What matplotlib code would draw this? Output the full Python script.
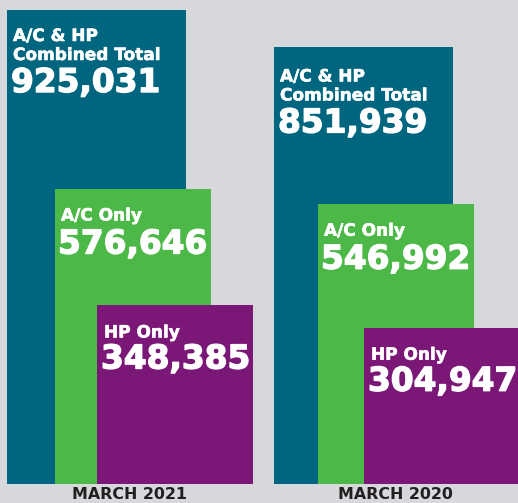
import numpy as np
import matplotlib.pyplot as plt
import matplotlib.patheffects as pe

periods = ['MARCH 2021', 'MARCH 2020']
combined = [925031, 851939]
ac_only = [576646, 546992]
hp_only = [348385, 304947]

bg = '#d6d8dc'
c_blue = '#00657e'
c_green = '#4cb848'
c_purple = '#7b1877'

fig = plt.figure(figsize=(5.18, 5.03), dpi=100, facecolor=bg)
ax = fig.add_axes([0, 19 / 503, 1, 484 / 503])
ax.set_facecolor(bg)
ax.set_xlim(0, 518)
ax.set_ylim(0, 484 * combined[0] / 474)
ax.axis('off')

# left edges of each bar layer, in pixel units of the x axis
blue_x = [7, 274]
green_x = [55, 318]
purple_x = [97, 364]

ax.bar(blue_x, combined, width=179, align='edge', color=c_blue, zorder=1)
ax.bar(green_x, ac_only, width=156, align='edge', color=c_green, zorder=2)
ax.bar(purple_x, hp_only, width=156, align='edge', color=c_purple, zorder=3)

lab = dict(color='white', fontweight='bold', fontsize=12.2, va='baseline',
           textcoords='offset pixels', zorder=5,
           path_effects=[pe.withStroke(linewidth=0.4, foreground='white')])
num = dict(color='white', fontweight='bold', fontsize=23.6, va='baseline',
           textcoords='offset pixels', zorder=5,
           path_effects=[pe.withStroke(linewidth=1.0, foreground='white')])

for i in range(2):
    d = 0 if i == 0 else 3
    ax.annotate('A/C & HP', (blue_x[i], combined[i]), xytext=(6, -31 - d), **lab)
    ax.annotate('Combined Total', (blue_x[i], combined[i]), xytext=(6, -50 - d), **lab)
    ax.annotate(f'{combined[i]:,}', (blue_x[i], combined[i]), xytext=(4, -82 - d), **num)

    ax.annotate('A/C Only', (green_x[i], ac_only[i]), xytext=(6, -32), **lab)
    ax.annotate(f'{ac_only[i]:,}', (green_x[i], ac_only[i]), xytext=(3, -65), **num)

    ax.annotate('HP Only', (purple_x[i], hp_only[i]), xytext=(7, -32), **lab)
    ax.annotate(f'{hp_only[i]:,}', (purple_x[i], hp_only[i]), xytext=(4, -63), **num)

    ax.annotate(periods[i], (blue_x[i] + 123 - i * 2, 0), xytext=(0, -15),
                textcoords='offset pixels', ha='center', va='baseline',
                fontsize=11.4, fontweight='bold', color='#231f20',
                annotation_clip=False)

fig.savefig('out.png', dpi=100, facecolor=bg)
plt.close(fig)
